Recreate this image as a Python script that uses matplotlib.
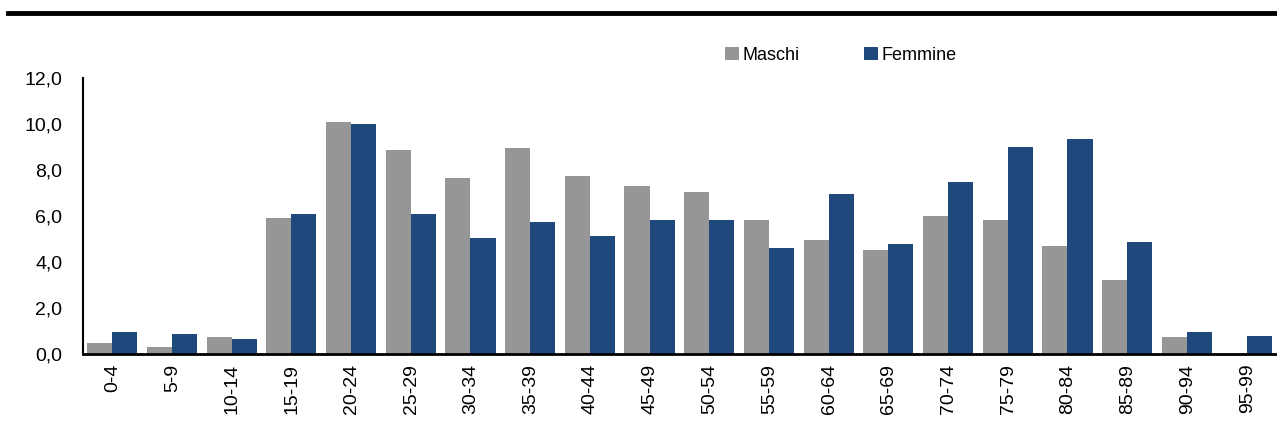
import numpy as np
import matplotlib.pyplot as plt
from matplotlib.lines import Line2D

plt.rcParams['font.family'] = ['Liberation Sans', 'DejaVu Sans']

# classi di età
classi = ['0-4', '5-9', '10-14', '15-19', '20-24', '25-29', '30-34', '35-39',
          '40-44', '45-49', '50-54', '55-59', '60-64', '65-69', '70-74',
          '75-79', '80-84', '85-89', '90-94', '95-99']

# valori percentuali
maschi = [0.48, 0.29, 0.73, 5.91, 10.07, 8.87, 7.64, 8.94, 7.72, 7.29,
          7.03, 5.81, 4.96, 4.52, 6.00, 5.83, 4.70, 3.23, 0.72, 0.0]
femmine = [0.96, 0.87, 0.64, 6.07, 9.99, 6.07, 5.03, 5.72, 5.13, 5.81,
           5.81, 4.59, 6.94, 4.78, 7.47, 9.01, 9.36, 4.86, 0.97, 0.80]

col_m = '#969696'
col_f = '#1F497D'

fig = plt.figure(figsize=(12.77, 4.29), dpi=100)
ax = fig.add_axes([83 / 1277, 75 / 429, 1 - 83 / 1277, 276 / 429])

x = np.arange(len(classi))
w = 0.42
ax.bar(x - w / 2 - 0.01, maschi, width=w, color=col_m, label='Maschi', zorder=2)
ax.bar(x + w / 2 - 0.01, femmine, width=w, color=col_f, label='Femmine', zorder=2)

ax.set_xlim(-0.5, len(classi) - 0.5)
ax.set_ylim(0, 12)
ax.set_yticks(np.arange(0, 12.1, 2))
ax.set_yticklabels([f'{v:.1f}'.replace('.', ',') for v in np.arange(0, 12.1, 2)])
ax.set_xticks(x)
ax.set_xticklabels(classi, rotation=90)
ax.tick_params(axis='both', length=0, labelsize=14, colors='black')
ax.tick_params(axis='y', pad=15)
ax.tick_params(axis='x', pad=7)

for s in ['top', 'right']:
    ax.spines[s].set_visible(False)
ax.spines['left'].set_linewidth(1.5)
ax.spines['bottom'].set_linewidth(2)
ax.spines['bottom'].set_zorder(3)

fig.legend(loc='center left', bbox_to_anchor=(725 / 1277, 1 - 55 / 429),
           ncol=2, frameon=False, fontsize=13, handlelength=0.75,
           handleheight=0.75, handletextpad=0.2, columnspacing=3.6,
           borderaxespad=0, borderpad=0)

# linea in testa
fig.add_artist(Line2D([8 / 1277, 1], [1 - 13 / 429, 1 - 13 / 429],
                      color='black', lw=3.5, transform=fig.transFigure))

fig.savefig('out.png', dpi=100)
